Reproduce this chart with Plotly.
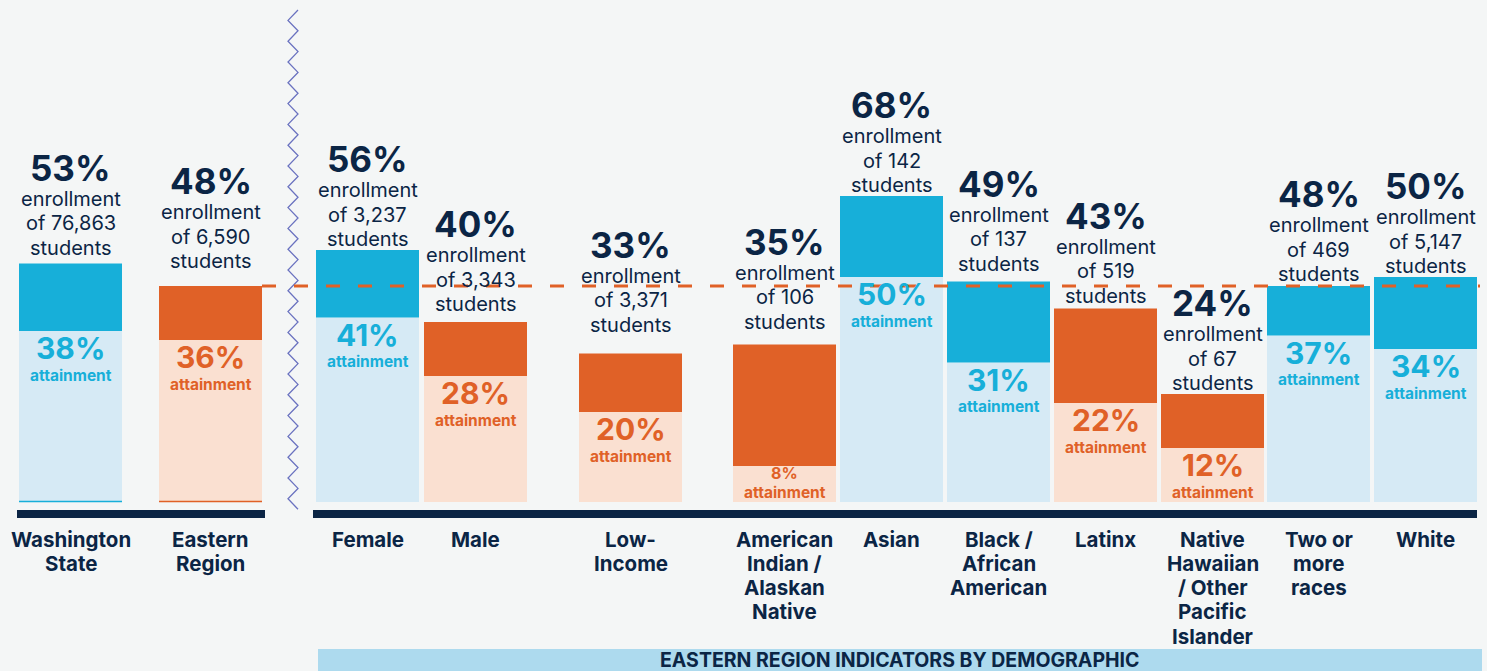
import plotly.graph_objects as go

# Data
categories = ["Washington<br>State", "Eastern<br>Region", "Female", "Male", "Low-<br>Income",
              "American<br>Indian /<br>Alaskan<br>Native", "Asian", "Black /<br>African<br>American",
              "Latinx", "Native<br>Hawaiian<br>/ Other<br>Pacific<br>Islander", "Two or<br>more<br>races", "White"]
enrollment = [53, 48, 56, 40, 33, 35, 68, 49, 43, 24, 48, 50]
attainment = [38, 36, 41, 28, 20, 8, 50, 31, 22, 12, 37, 34]
students = ["76,863", "6,590", "3,237", "3,343", "3,371", "106", "142", "137", "519", "67", "469", "5,147"]
above_benchmark = [True, False, True, False, False, False, True, True, False, False, True, True]
region_enrollment = 48

# Layout positions (pixels)
x_pos = [70.5, 210.5, 367.5, 475.5, 630.5, 784.5, 891.5, 998.5, 1105.5, 1212.5, 1318.5, 1425.5]
label_gap = [16, 25, 11, 18, 29, 23, 11, 18, 13, 11, 12, 11]
bar_width = 103
W, H = 1487, 671
BASE_PX = 502
PX_PER_PCT = 4.5

# Colours
blue_dark = "#17AFD9"
blue_light = "#D6EAF5"
orange_dark = "#E06127"
orange_light = "#FAE0D1"
navy = "#0B2545"
bg = "#F4F6F6"
zig_color = "#6A72C0"


def py(p):
    # pixel row -> data value
    return (BASE_PX - p) / PX_PER_PCT


dark_cols = [blue_dark if a else orange_dark for a in above_benchmark]
light_cols = [blue_light if a else orange_light for a in above_benchmark]

fig = go.Figure()
fig.add_trace(go.Bar(x=x_pos, y=attainment, width=bar_width, marker=dict(color=light_cols, line_width=0),
                     hoverinfo="skip"))
fig.add_trace(go.Bar(x=x_pos, y=[e - a for e, a in zip(enrollment, attainment)], base=attainment,
                     width=bar_width, marker=dict(color=dark_cols, line_width=0), hoverinfo="skip"))

# zigzag separator
zx, zy = [], []
yy = 10
i = 0
while yy <= 510:
    zx.append(298 if i % 2 == 0 else 288)
    zy.append(py(yy))
    yy += 10.4
    i += 1
fig.add_trace(go.Scatter(x=zx, y=zy, mode="lines", line=dict(color=zig_color, width=1.3), hoverinfo="skip"))

shapes = []
# thin bottom lines on the state / region bars
for k in range(2):
    shapes.append(dict(type="line", x0=x_pos[k] - bar_width / 2, x1=x_pos[k] + bar_width / 2,
                       y0=py(501.5), y1=py(501.5), line=dict(color=dark_cols[k], width=1.5)))
# baselines
shapes.append(dict(type="rect", x0=17, x1=265, y0=py(510), y1=py(518), fillcolor=navy, line_width=0))
shapes.append(dict(type="rect", x0=313, x1=1477, y0=py(510), y1=py(518), fillcolor=navy, line_width=0))
# benchmark dashed line
shapes.append(dict(type="line", x0=262, x1=1480, y0=region_enrollment, y1=region_enrollment, layer="above",
                   line=dict(color=orange_dark, width=2.8, dash="14px,18px")))
# banner
shapes.append(dict(type="rect", x0=318, x1=1482, y0=py(649), y1=py(672), fillcolor="#ADDAEE", line_width=0))

ann = []
for k in range(len(categories)):
    x = x_pos[k]
    g = label_gap[k]
    # enrollment text block, line by line
    block = ["enrollment", "of " + students[k], "students"]
    for j, line in enumerate(block):
        ann.append(dict(x=x, y=enrollment[k], yshift=g + 24.5 * (2 - j), yanchor="middle", showarrow=False,
                        text=line, font=dict(family="Inter", size=20, color=navy)))
    ann.append(dict(x=x, y=enrollment[k], yshift=g + 24.5 * 2 + 31, yanchor="middle", showarrow=False,
                    text="<b>" + str(enrollment[k]) + "%</b>",
                    font=dict(family="Inter", size=35, color=navy, weight=800)))
    col = dark_cols[k]
    if attainment[k] < 10:
        ann.append(dict(x=x, y=attainment[k], yshift=-7, yanchor="middle", showarrow=False,
                        text="<b>" + str(attainment[k]) + "%</b>", font=dict(family="Inter", size=16, color=col)))
        ann.append(dict(x=x, y=attainment[k], yshift=-26, yanchor="middle", showarrow=False,
                        text="<b>attainment</b>", font=dict(family="Inter", size=15.5, color=col)))
    else:
        ann.append(dict(x=x, y=attainment[k], yshift=-17, yanchor="middle", showarrow=False,
                        text="<b>" + str(attainment[k]) + "%</b>",
                        font=dict(family="Inter", size=30, color=col, weight=800)))
        ann.append(dict(x=x, y=attainment[k], yshift=-44, yanchor="middle", showarrow=False,
                        text="<b>attainment</b>", font=dict(family="Inter", size=15.5, color=col)))
    # category label, one annotation per line to keep the tight line spacing
    for j, line in enumerate(categories[k].split("<br>")):
        ann.append(dict(x=x, y=py(539 + 24.3 * j), yanchor="middle", showarrow=False, text="<b>" + line + "</b>",
                        font=dict(family="Inter", size=20.5, color=navy)))

ann.append(dict(x=900, y=py(659.5), yanchor="middle", showarrow=False, borderpad=0,
                text="<b>EASTERN REGION INDICATORS BY DEMOGRAPHIC</b>",
                font=dict(family="Inter", size=19.5, color=navy)))

fig.update_layout(
    width=W, height=H, margin=dict(l=0, r=0, t=0, b=0),
    paper_bgcolor=bg, plot_bgcolor=bg, showlegend=False, barmode="overlay",
    xaxis=dict(range=[0, W], visible=False, fixedrange=True),
    yaxis=dict(range=[py(H), py(0)], visible=False, fixedrange=True),
    shapes=shapes, annotations=ann,
)

fig.write_html("out.html", config={"displayModeBar": False},
               post_script="document.body.style.margin='0px';document.body.style.overflow='hidden';")
